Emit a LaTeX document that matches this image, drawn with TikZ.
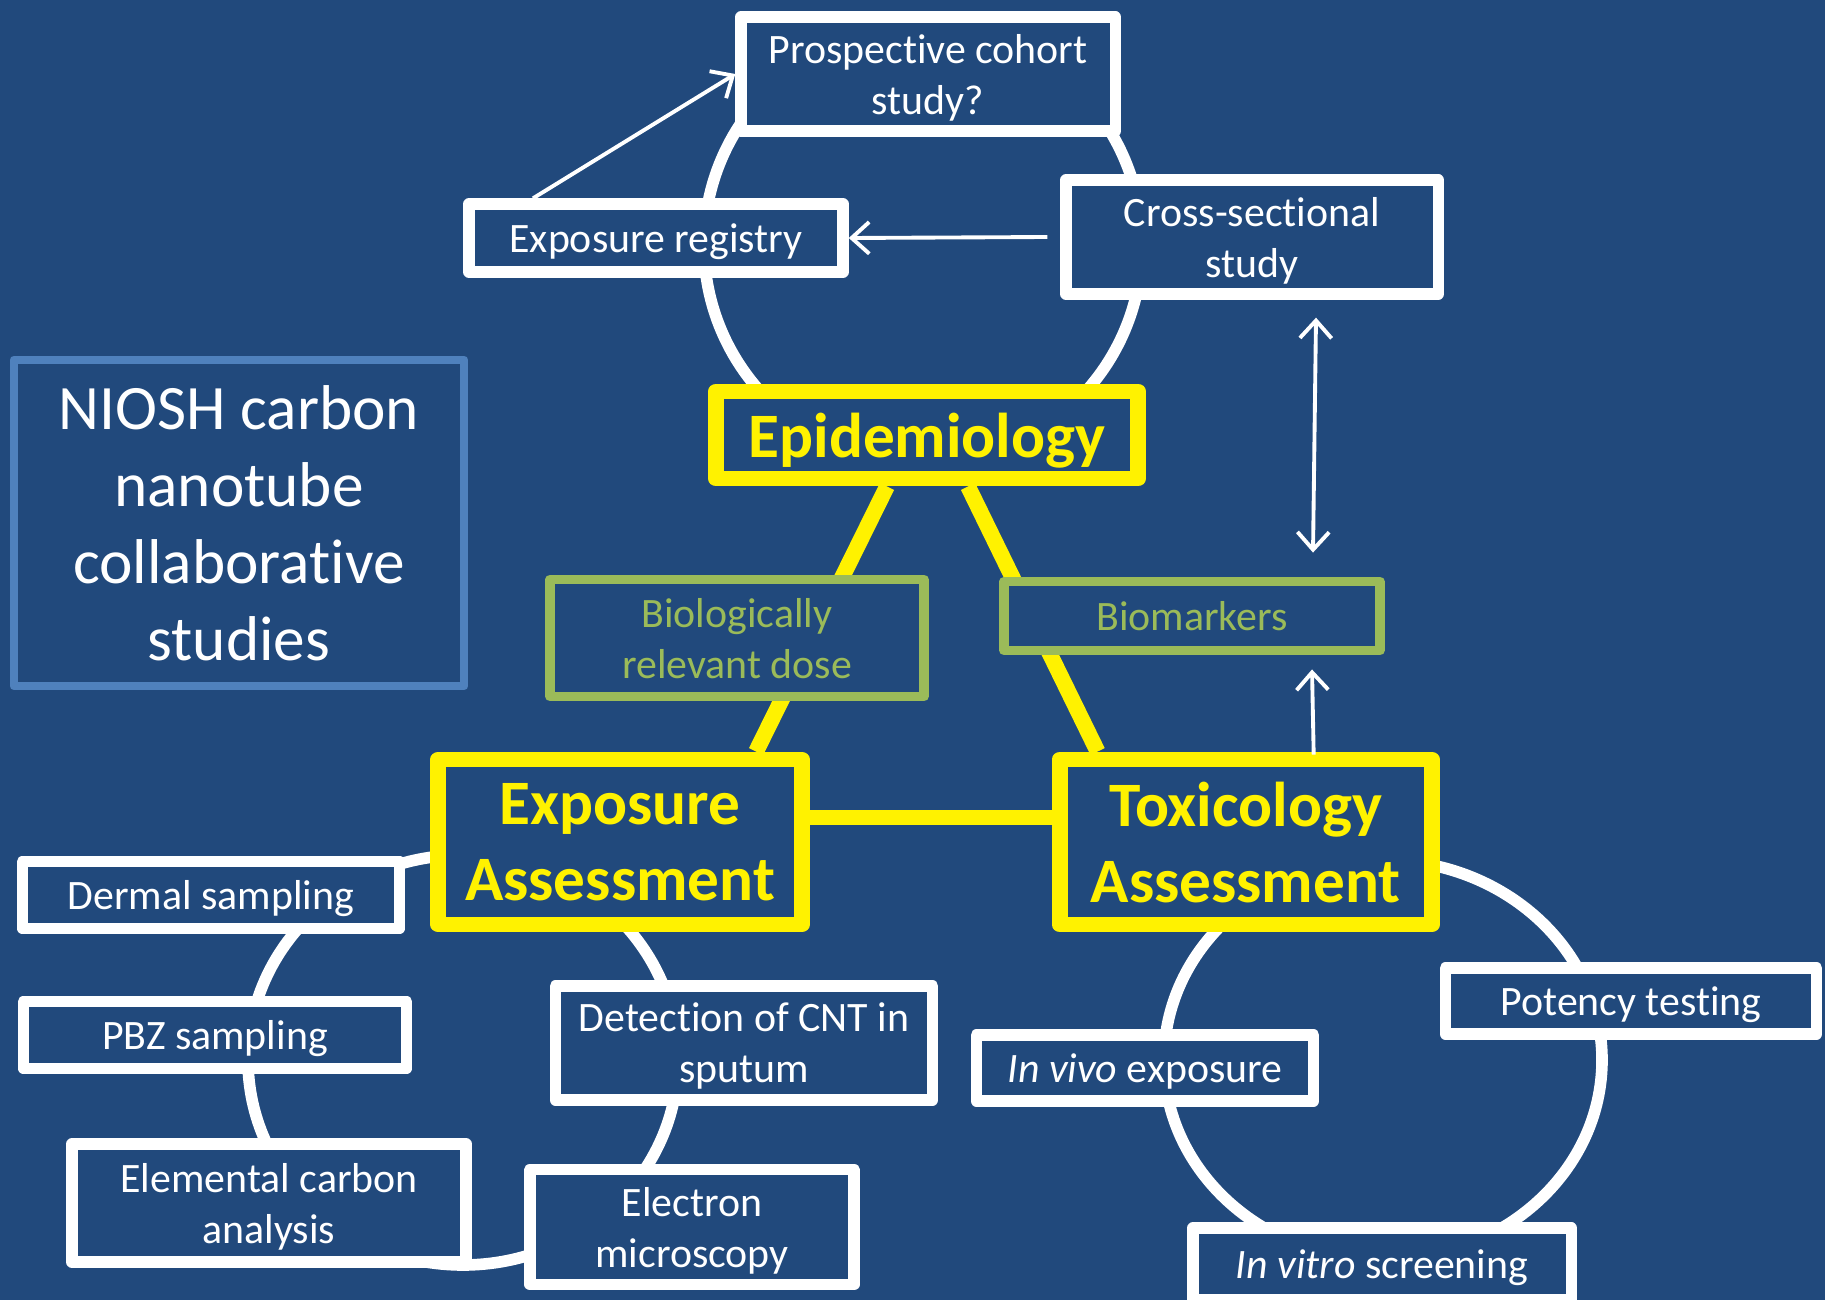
\documentclass[tikz,border=0pt]{standalone}
\usepackage{fontspec}
\setmainfont{Carlito}[Ligatures={NoCommon,NoContextual},RawFeature={-liga;-clig;-calt;-dlig}]
\usepackage{tikz}
\usetikzlibrary{arrows.meta,positioning,backgrounds}
\definecolor{slide}{RGB}{33,73,124}
\definecolor{leaf}{RGB}{155,187,89}
\definecolor{frame}{RGB}{79,129,189}

\begin{document}
\begin{tikzpicture}[
    x=0.01cm, y=-0.01cm,
    >={Straight Barb[length=5pt,width=9pt]},
    study/.style={
		rectangle,
		draw=white,
		line width=3.2pt,
		line join=round,
		fill=slide,
		text=white,
		align=center,
		inner sep=0pt,
		text depth=0pt,
		font=\fontsize{11.9}{14.5}\selectfont
	},
	field/.style={
		study,
		draw=yellow,
		line width=4.5pt,
		text=yellow,
		font=\fontsize{18}{21.6}\selectfont\bfseries
	},
	bridge/.style={
		study,
		draw=leaf,
		line width=2.8pt,
		text=leaf
	},
	spoke/.style={draw=yellow, line width=4.5pt},
	ring/.style={draw=white, line width=3.3pt},
	pointer/.style={draw=white, line width=1.1pt}
  ]
  \useasboundingbox (0,0) rectangle (1825,1300);

  % the three research areas
  \node [field, minimum width=4.22cm, minimum height=0.87cm] (epi) at (927,435) {Epidemiology};
  \node [field, minimum width=3.63cm, minimum height=1.65cm] (expo) at (620,842) {Exposure\\Assessment};
  \node [field, right=2.42cm of expo, minimum width=3.72cm, minimum height=1.65cm] (tox) {Toxicology\\Assessment};

  % links between the areas
  \node [bridge, minimum width=3.73cm, minimum height=1.17cm] (biodose) at (737,638) {Biologically\\relevant dose};
  \node [bridge, minimum width=3.75cm, minimum height=0.69cm] (biomark) at (1192,616) {Biomarkers};

  % epidemiology studies
  \node [study, minimum width=3.74cm, minimum height=1.14cm] (pros) at (928,74) {Prospective cohort\\study?};
  \node [study, minimum width=3.74cm, minimum height=0.68cm] (registry) at (656,238) {Exposure registry};
  \node [study, minimum width=3.72cm, minimum height=1.14cm] (cross) at (1252,237) {Cross-sectional\\study};

  % exposure studies
  \node [study, minimum width=3.77cm, minimum height=0.67cm] (dermal) at (211,895) {Dermal sampling};
  \node [study, minimum width=3.83cm, minimum height=0.67cm] (pbz) at (215,1035) {PBZ sampling};
  \node [study, minimum width=3.94cm, minimum height=1.18cm] (elemc) at (269,1203) {Elemental carbon\\analysis};
  \node [study, minimum width=3.77cm, minimum height=1.14cm] (sputum) at (744,1043) {Detection of CNT in\\sputum};
  \node [study, minimum width=3.24cm, minimum height=1.15cm] (em) at (692,1227) {Electron\\microscopy};

  % toxicology studies
  \node [study, minimum width=3.37cm, minimum height=0.66cm] (invivo) at (1145,1068) {\textit{In vivo} exposure};
  \node [study, minimum width=3.71cm, minimum height=0.66cm] (potency) at (1631,1001) {Potency testing};
  \node [study, minimum width=3.78cm, minimum height=0.72cm] (invitro) at (1382,1264) {\textit{In vitro} screening};

  \node [study, draw=frame, line width=2.4pt, minimum width=4.50cm, minimum height=3.26cm,
    font=\fontsize{18}{21.9}\selectfont] (niosh) at (239,523) {NIOSH carbon\\nanotube\\collaborative\\studies};

  \draw [pointer,->] ([xshift=-1.23cm]registry.north) -- (pros.west);
  \draw [pointer,->] ([xshift=-0.13cm]cross.west) -- (registry.east);
  \draw [pointer,<->] ([shift={(64,18)}]cross.south) -- ([shift={(121,-24)}]biomark.north);
  \draw [pointer,->] ([shift={(68,3)}]tox.north) -- ([shift={(120,14)}]biomark.south);

  \begin{scope}[on background layer]
    \fill [slide] (0,0) rectangle (1825,1300);
    \draw [ring] (923,245) circle [radius=219];
    \draw [ring] (463,1060) ellipse [x radius=215, y radius=205];
    \draw [ring] (1383,1060) ellipse [x radius=219, y radius=200];
    \draw [spoke] ([xshift=-0.40cm]epi.south) -- ([xshift=1.36cm]expo.north);
    \draw [spoke] ([xshift=0.41cm]epi.south) -- ([xshift=-1.48cm]tox.north);
    \draw [spoke] ([yshift=0.245cm]expo.east) -- ([yshift=0.245cm]tox.west);
  \end{scope}

\end{tikzpicture}
\end{document}
